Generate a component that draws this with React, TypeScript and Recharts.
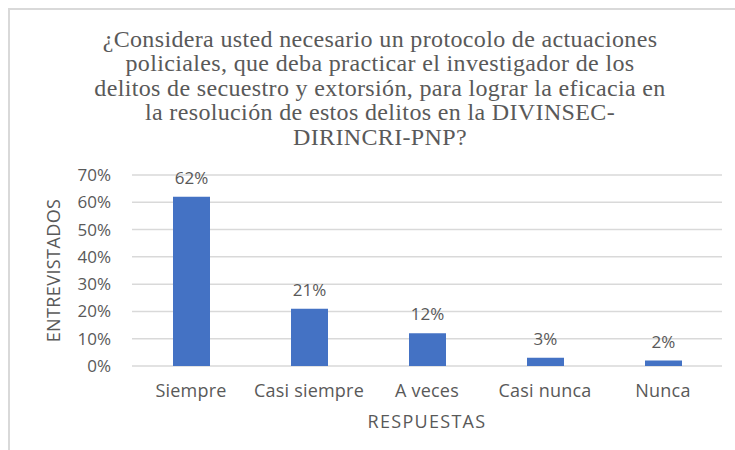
import React from 'react';
import { BarChart, Bar, XAxis, YAxis, CartesianGrid, LabelList } from 'recharts';

const categories = ['Siempre', 'Casi siempre', 'A veces', 'Casi nunca', 'Nunca'];
const values = [62, 21, 12, 3, 2];
const yTicks = [0, 10, 20, 30, 40, 50, 60, 70];

const titleLines = [
  '¿Considera usted necesario un protocolo de actuaciones',
  'policiales, que deba practicar el investigador de los',
  'delitos de secuestro y extorsión, para lograr la eficacia en',
  'la resolución de estos delitos en la DIVINSEC-',
  'DIRINCRI-PNP?',
];

const data = categories.map((name, i) => ({ name, value: values[i] }));

const GRAY = '#595959';
const FONT = '"Open Sans", sans-serif';

const App: React.FC = () => {
  return (
    <div style={{ position: 'absolute', left: 0, top: 0, width: 735, height: 450, overflow: 'hidden', background: '#fff' }}>
      <div
        style={{
          position: 'absolute',
          left: 8,
          top: 8,
          width: 800,
          height: 500,
          borderLeft: '2px solid #d9d9d9',
          borderTop: '2px solid #d9d9d9',
        }}
      />
      <div
        style={{
          position: 'absolute',
          left: 60,
          width: 640,
          top: 27,
          textAlign: 'center',
          fontFamily: '"Liberation Serif", "Times New Roman", serif',
          fontSize: 24,
          letterSpacing: 0.35,
          lineHeight: '24.4px',
          color: GRAY,
        }}
      >
        {titleLines.map((l) => (
          <div key={l} style={{ height: 24.4 }}>{l}</div>
        ))}
      </div>
      <div style={{ position: 'absolute', left: 0, top: 0 }}>
        <BarChart
          width={735}
          height={450}
          data={data}
          margin={{ top: 175, right: 13, left: 20, bottom: 24 }}
          style={{ fontFamily: FONT }}
        >
          <CartesianGrid vertical={false} stroke="#d9d9d9" strokeWidth={1.5} />
          <XAxis
            dataKey="name"
            axisLine={false}
            tickLine={false}
            tickSize={0}
            tickMargin={18}
            height={60}
            tick={{ fill: GRAY, fontSize: 18, letterSpacing: 0.2 }}
            label={{
              value: 'RESPUESTAS',
              position: 'insideBottom',
              offset: -2,
              fill: GRAY,
              fontSize: 18,
              style: { letterSpacing: 1.3 },
            }}
          />
          <YAxis
            width={112}
            domain={[0, 70]}
            ticks={yTicks}
            tickFormatter={(v) => `${v}%`}
            axisLine={false}
            tickLine={false}
            tickSize={0}
            tickMargin={21}
            tick={{ fill: GRAY, fontSize: 17 }}
            label={{
              value: 'ENTREVISTADOS',
              angle: -90,
              position: 'insideLeft',
              offset: 34,
              fill: GRAY,
              fontSize: 18,
              style: { textAnchor: 'middle', letterSpacing: 0.4 },
            }}
          />
          <Bar dataKey="value" fill="#4472C4" barSize={37} isAnimationActive={false}>
            <LabelList
              dataKey="value"
              position="top"
              offset={13}
              formatter={(v: number) => `${v}%`}
              fill={GRAY}
              fontSize={17}
            />
          </Bar>
        </BarChart>
      </div>
    </div>
  );
};

export default App;
